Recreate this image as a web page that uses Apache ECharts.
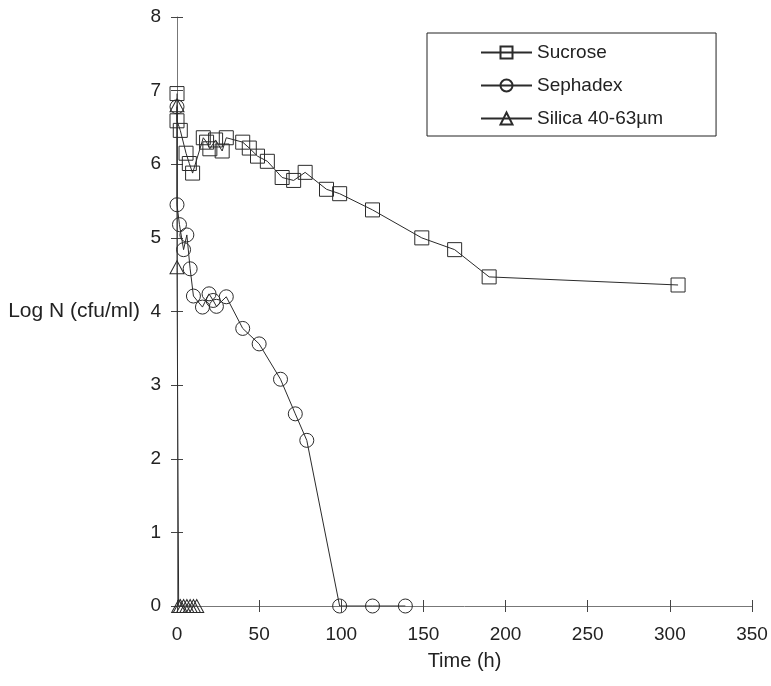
<!DOCTYPE html>
<html>
<head>
<meta charset="utf-8">
<script src="https://cdn.jsdelivr.net/npm/echarts@6/dist/echarts.min.js"></script>
<style>
  html, body { margin: 0; padding: 0; background: #fff; }
  #chart { width: 771px; height: 686px; }
</style>
</head>
<body>
<div id="chart"></div>
<script>
// Survival of cells stored on different carriers: log counts over time
const seriesNames = ['Sucrose', 'Sephadex', 'Silica 40-63\u00b5m'];

const sucroseTime = [0, 0, 2, 5.5, 7.5, 9.5, 16, 18, 20, 23.5, 27.5, 30, 40, 44, 49, 55, 64, 71, 78, 91, 99, 119, 149, 169, 190, 305];
const sucroseLog  = [6.96, 6.59, 6.46, 6.15, 6.01, 5.88, 6.36, 6.30, 6.21, 6.33, 6.18, 6.36, 6.30, 6.22, 6.11, 6.04, 5.82, 5.78, 5.89, 5.66, 5.60, 5.38, 5.00, 4.84, 4.47, 4.36];

const sephadexTime = [0, 0, 1.5, 4, 6, 8, 10, 15.5, 19.5, 22, 24, 30, 40, 50, 63, 72, 79, 99, 119, 139];
const sephadexLog  = [6.78, 5.45, 5.18, 4.84, 5.04, 4.58, 4.21, 4.06, 4.24, 4.15, 4.07, 4.20, 3.77, 3.56, 3.08, 2.61, 2.25, 0, 0, 0];

const silicaTime = [0, 0, 1, 2, 4, 6, 8, 10, 12];
const silicaLog  = [6.80, 4.60, 0, 0, 0, 0, 0, 0, 0];

const xTicks = { min: 0, max: 350, interval: 50 };
const yTicks = { min: 0, max: 8, interval: 1 };

function pairs(xs, ys) {
  return xs.map((x, i) => [x, ys[i]]);
}

const FONT = 'Liberation Sans, Arial, sans-serif';
const INK = '#2b2b2b';
const AXIS = '#777';
const TEXT = '#222';

const markerStyle = {
  color: 'rgba(255,255,255,0)',
  borderColor: INK,
  borderWidth: 1
};

function lineSeries(name, xs, ys, symbol, size) {
  return {
    name: name,
    type: 'line',
    data: pairs(xs, ys),
    symbol: symbol,
    symbolSize: size,
    showAllSymbol: true,
    animation: false,
    lineStyle: { color: INK, width: 1 },
    itemStyle: markerStyle,
    emphasis: { disabled: true }
  };
}

const chart = echarts.init(document.getElementById('chart'), null, { renderer: 'canvas' });

const baseX = {
  type: 'value',
  min: xTicks.min, max: xTicks.max, interval: xTicks.interval,
  splitLine: { show: false }
};
const baseY = {
  type: 'value',
  min: yTicks.min, max: yTicks.max, interval: yTicks.interval,
  splitLine: { show: false }
};

chart.setOption({
  backgroundColor: '#fff',
  animation: false,
  textStyle: { fontFamily: FONT },
  grid: { left: 177, right: 19, top: 17, bottom: 80 },
  legend: {
    data: seriesNames,
    orient: 'vertical',
    left: 427,
    top: 33,
    padding: [10, 53, 8, 53],
    itemGap: 14,
    itemWidth: 51,
    itemHeight: 15,
    borderColor: '#222',
    borderWidth: 1,
    selectedMode: false,
    textStyle: { fontFamily: FONT, fontSize: 19, color: TEXT }
  },
  xAxis: [
    Object.assign({}, baseX, {
      position: 'bottom',
      name: 'Time (h)',
      nameLocation: 'middle',
      nameGap: 45,
      nameTextStyle: { fontFamily: FONT, fontSize: 20, color: TEXT },
      axisLine: { show: true, onZero: false, lineStyle: { color: AXIS, width: 1 } },
      axisTick: { show: true, inside: false, length: 6, lineStyle: { color: '#444' } },
      axisLabel: { fontFamily: FONT, fontSize: 19, color: TEXT, margin: 19 }
    }),
    Object.assign({}, baseX, {
      position: 'bottom',
      axisLine: { show: false },
      axisTick: { show: true, inside: true, length: 6, lineStyle: { color: '#444' } },
      axisLabel: { show: false }
    })
  ],
  yAxis: [
    Object.assign({}, baseY, {
      position: 'left',
      name: 'Log N (cfu/ml)',
      nameLocation: 'middle',
      nameRotate: 0,
      nameGap: 37,
      nameTextStyle: { fontFamily: FONT, fontSize: 21, color: TEXT, align: 'right', verticalAlign: 'middle' },
      axisLine: { show: true, onZero: false, lineStyle: { color: AXIS, width: 1 } },
      axisTick: { show: true, inside: false, length: 6, lineStyle: { color: '#444' } },
      axisLabel: { fontFamily: FONT, fontSize: 19, color: TEXT, margin: 16 }
    }),
    Object.assign({}, baseY, {
      position: 'left',
      axisLine: { show: false },
      axisTick: { show: true, inside: true, length: 6, lineStyle: { color: '#444' } },
      axisLabel: { show: false }
    })
  ],
  series: [
    lineSeries(seriesNames[0], sucroseTime, sucroseLog, 'rect', 14),
    lineSeries(seriesNames[1], sephadexTime, sephadexLog, 'circle', 14),
    lineSeries(seriesNames[2], silicaTime, silicaLog, 'triangle', [14, 13])
  ]
});
</script>
</body>
</html>
